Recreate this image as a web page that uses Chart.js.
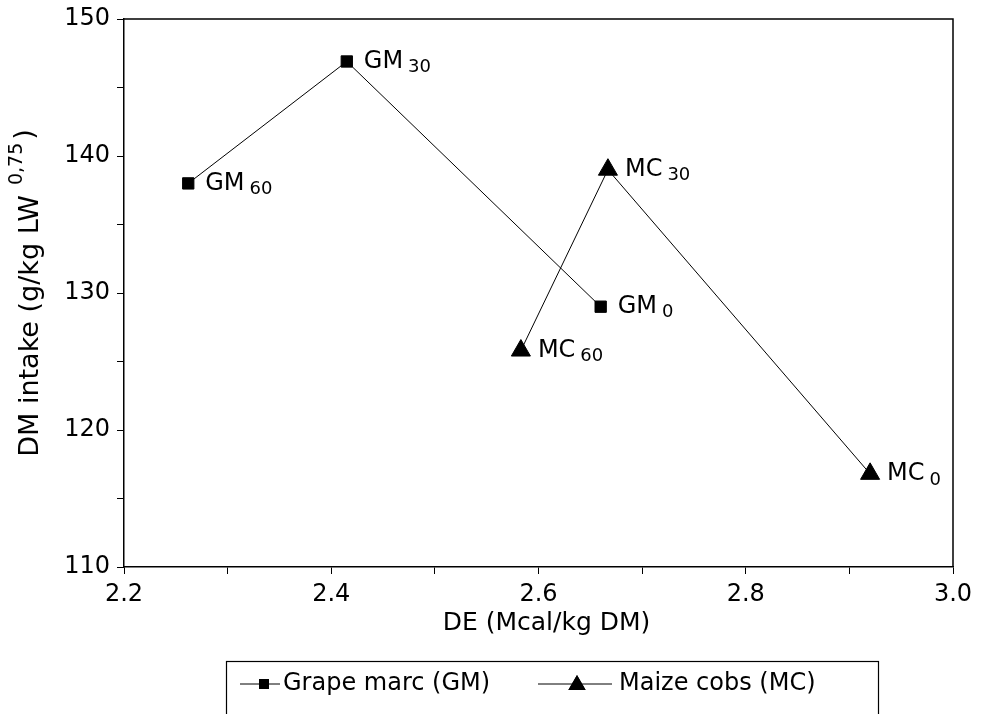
<!DOCTYPE html>
<html>
<head>
<meta charset="utf-8">
<script src="https://cdn.jsdelivr.net/npm/chart.js@4"></script>
<style>
  html, body { margin: 0; padding: 0; background: #fff; }
  #wrap { width: 981px; height: 714px; position: relative; }
</style>
</head>
<body>
<div id="wrap"><canvas id="c" width="981" height="714"></canvas></div>
<script>
// ---- data ----
const seriesNames = ['Grape marc (GM)', 'Maize cobs (MC)'];
const seriesPrefixes = ['GM', 'MC'];
const gmDE = [2.262, 2.415, 2.660];
const gmIntake = [138.0, 146.9, 129.0];
const gmLevels = ['60', '30', '0'];
const mcDE = [2.583, 2.667, 2.920];
const mcIntake = [125.8, 139.0, 116.8];
const mcLevels = ['60', '30', '0'];
const xTitle = 'DE (Mcal/kg DM)';
const yTitleMain = 'DM intake (g/kg LW';
const yTitleSup = '0,75';
const yTitleEnd = ')';

const FONT = '"DejaVu Sans", "Liberation Sans", sans-serif';

function pts(xs, ys) { return xs.map((x, i) => ({ x: x, y: ys[i] })); }

const framePlugin = {
  id: 'frame',
  afterDraw(chart) {
    const { ctx, chartArea: a } = chart;
    ctx.save();
    ctx.strokeStyle = '#000';
    ctx.lineWidth = 1.5;
    ctx.beginPath();
    ctx.moveTo(a.left, a.top);
    ctx.lineTo(a.right, a.top);
    ctx.lineTo(a.right, a.bottom);
    ctx.stroke();
    ctx.restore();
  }
};

const labelPlugin = {
  id: 'pointLabels',
  afterDatasetsDraw(chart) {
    const ctx = chart.ctx;
    const levels = [gmLevels, mcLevels];
    ctx.save();
    ctx.fillStyle = '#000';
    chart.data.datasets.forEach((ds, di) => {
      const meta = chart.getDatasetMeta(di);
      meta.data.forEach((el, i) => {
        const x = el.x + 17, y = el.y;
        ctx.font = '24px ' + FONT;
        ctx.textAlign = 'left';
        ctx.textBaseline = 'middle';
        const main = seriesPrefixes[di];
        ctx.fillText(main, x, y);
        const w = ctx.measureText(main).width;
        ctx.font = '18px ' + FONT;
        ctx.fillText(levels[di][i], x + w + 5, y + 6);
      });
    });
    ctx.restore();
  }
};

const titlesPlugin = {
  id: 'titles',
  afterDraw(chart) {
    const { ctx, chartArea: a } = chart;
    ctx.save();
    ctx.fillStyle = '#000';
    // x title
    ctx.font = '25px ' + FONT;
    ctx.textAlign = 'center';
    ctx.textBaseline = 'middle';
    ctx.fillText(xTitle, (a.left + a.right) / 2 + 8, 623);
    // y title (rotated)
    ctx.translate(31, (a.top + a.bottom) / 2);
    ctx.rotate(-Math.PI / 2);
    ctx.textAlign = 'left';
    ctx.textBaseline = 'middle';
    ctx.font = '27px ' + FONT;
    const w1 = ctx.measureText(yTitleMain).width;
    const sp = 10;
    ctx.font = '19px ' + FONT;
    const w2 = ctx.measureText(yTitleSup).width;
    ctx.font = '27px ' + FONT;
    const w3 = ctx.measureText(yTitleEnd).width;
    const total = w1 + sp + w2 + 3 + w3;
    let cx = -total / 2;
    ctx.fillText(yTitleMain, cx, 0);
    cx += w1 + sp;
    ctx.font = '19px ' + FONT;
    ctx.fillText(yTitleSup, cx, -14);
    cx += w2 + 3;
    ctx.font = '27px ' + FONT;
    ctx.fillText(yTitleEnd, cx, -5);
    ctx.restore();
  }
};

const legendPlugin = {
  id: 'customLegend',
  afterDraw(chart) {
    const ctx = chart.ctx;
    ctx.save();
    ctx.strokeStyle = '#000';
    ctx.lineWidth = 1.2;
    ctx.strokeRect(226.5, 661.5, 652, 70);
    const y = 684;
    const items = [
      { x0: 240, x1: 280, mx: 264, tx: 283 },
      { x0: 538, x1: 612, mx: 577, tx: 619 }
    ];
    chart.data.datasets.forEach((ds, di) => {
      const it = items[di];
      ctx.lineWidth = 1;
      ctx.beginPath();
      ctx.moveTo(it.x0, y);
      ctx.lineTo(it.x1, y);
      ctx.stroke();
      Chart.helpers.drawPoint(ctx, {
        pointStyle: ds.pointStyle,
        radius: ds.pointStyle === 'triangle' ? 10 : 7,
        rotation: 0
      }, it.mx, y + (ds.pointStyle === 'triangle' ? 1 : 0));
      ctx.fillStyle = '#000';
      ctx.fill();
      ctx.font = '24px ' + FONT;
      ctx.textAlign = 'left';
      ctx.textBaseline = 'middle';
      ctx.fillText(ds.label, it.tx, y);
    });
    ctx.restore();
  }
};

new Chart(document.getElementById('c'), {
  type: 'scatter',
  data: {
    datasets: [
      {
        label: seriesNames[0],
        data: pts(gmDE, gmIntake),
        showLine: true,
        borderColor: '#000',
        borderWidth: 1,
        backgroundColor: '#000',
        pointStyle: 'rect',
        pointRadius: 8,
        pointHoverRadius: 8
      },
      {
        label: seriesNames[1],
        data: pts(mcDE, mcIntake),
        showLine: true,
        borderColor: '#000',
        borderWidth: 1,
        backgroundColor: '#000',
        pointStyle: 'triangle',
        pointRadius: 11,
        pointHoverRadius: 11
      }
    ]
  },
  options: {
    responsive: false,
    animation: false,
    events: [],
    layout: { padding: { top: 18, right: 28, left: 0, bottom: 0 } },
    plugins: { legend: { display: false }, tooltip: { enabled: false } },
    scales: {
      x: {
        type: 'linear',
        min: 2.2, max: 3.0,
        afterFit(s) { s.height = 147; },
        border: { color: '#000', width: 1.5 },
        grid: { drawOnChartArea: false, color: '#000', tickLength: 7, tickWidth: 1 },
        ticks: {
          stepSize: 0.1,
          autoSkip: false,
          maxRotation: 0,
          color: '#000',
          padding: 6,
          font: { family: FONT, size: 24 },
          callback(v) {
            const k = Math.round(v * 10);
            return k % 2 === 0 ? (k / 10).toFixed(1) : '';
          }
        }
      },
      y: {
        type: 'linear',
        min: 110, max: 150,
        afterFit(s) { s.width = 124; },
        border: { color: '#000', width: 1.5 },
        grid: { drawOnChartArea: false, color: '#000', tickLength: 7, tickWidth: 1 },
        ticks: {
          stepSize: 5,
          autoSkip: false,
          color: '#000',
          padding: 7,
          font: { family: FONT, size: 24, lineHeight: 1 },
          callback(v) { return Math.round(v) % 10 === 0 ? String(Math.round(v)) : ''; }
        }
      }
    }
  },
  plugins: [framePlugin, labelPlugin, titlesPlugin, legendPlugin]
});
</script>
</body>
</html>
